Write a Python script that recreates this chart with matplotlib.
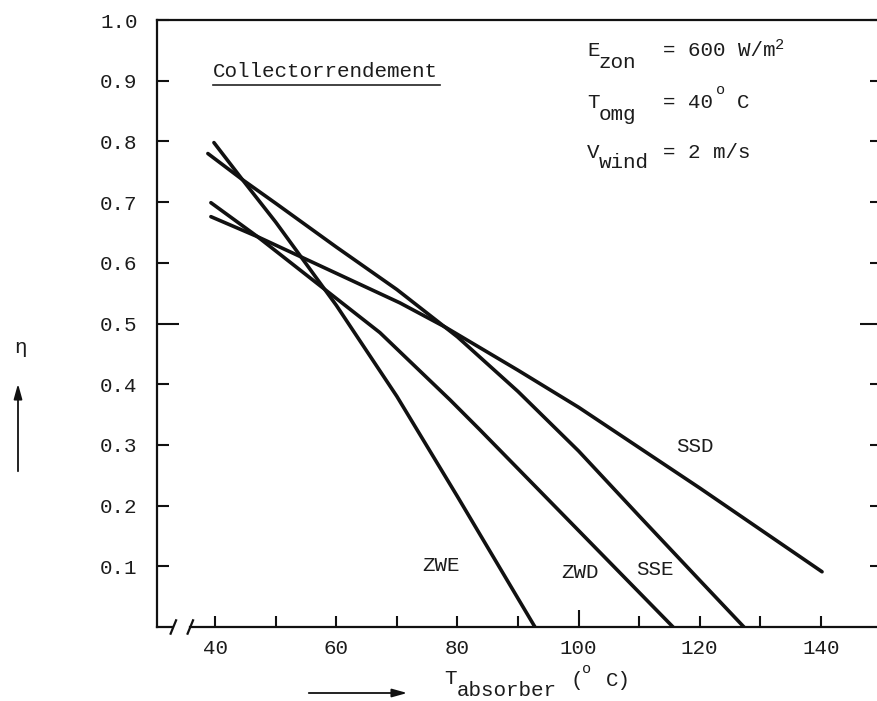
import matplotlib.pyplot as plt

# rendement (eta) tegen absorbertemperatuur
t_zwe = [39.8, 44.5, 50.0, 60.0, 70.0, 80.0, 92.8]
eta_zwe = [0.798, 0.737, 0.667, 0.53, 0.38, 0.215, 0.0]

t_sse = [38.8, 44.5, 50.0, 60.0, 70.0, 80.0, 90.0, 100.0, 110.0, 120.0, 127.3]
eta_sse = [0.78, 0.737, 0.698, 0.626, 0.556, 0.478, 0.388, 0.29, 0.183, 0.077, 0.0]

t_zwd = [39.3, 47.0, 67.2, 78.8, 83.7, 115.6]
eta_zwd = [0.699, 0.643, 0.485, 0.374, 0.325, 0.0]

t_ssd = [39.3, 47.0, 70.5, 78.0, 90.0, 100.0, 120.0, 140.2]
eta_ssd = [0.676, 0.643, 0.534, 0.494, 0.423, 0.362, 0.229, 0.091]

namen = ["ZWE", "ZWD", "SSE", "SSD"]
label_pos = [(77.3, 0.102), (100.2, 0.089), (112.6, 0.094), (119.2, 0.297)]

x_major = [40, 60, 80, 100, 120, 140]
x_minor = [50, 70, 90, 110, 130]
y_ticks = [0.1, 0.2, 0.3, 0.4, 0.5, 0.6, 0.7, 0.8, 0.9, 1.0]

MONO = "Liberation Mono"
KLEUR = "#1c1c1c"
FS = 15

W, H = 878, 701
fig = plt.figure(figsize=(W / 100, H / 100), dpi=100)

def fx(x):
    return x / W

def fy(y):
    return 1 - y / H

ax = fig.add_axes([fx(157), fy(627), (882 - 157) / W, (627 - 20) / H])
ax.set_xlim(30.4, 150.1)
ax.set_ylim(0, 1.0)

for t, e in [(t_zwe, eta_zwe), (t_zwd, eta_zwd), (t_sse, eta_sse), (t_ssd, eta_ssd)]:
    ax.plot(t, e, color="#111111", lw=2.6, solid_capstyle="round",
            solid_joinstyle="round")

for naam, (tx, ty) in zip(namen, label_pos):
    ax.text(tx, ty, naam, family=MONO, fontsize=FS, color=KLEUR,
            ha="center", va="center")

# assen
for s in ["left", "top", "right"]:
    ax.spines[s].set_linewidth(1.6)
    ax.spines[s].set_color("#111111")
ax.spines["bottom"].set_visible(False)

# onderste as met onderbreking
ax.plot([30.4, 32.9], [0, 0], color="#111111", lw=1.6, clip_on=False)
ax.plot([35.9, 150.1], [0, 0], color="#111111", lw=1.6, clip_on=False)
for xb in [33.1, 35.9]:
    ax.plot([xb - 0.45, xb + 0.45], [-0.011, 0.011], color="#111111",
            lw=1.6, clip_on=False)

ax.set_xticks(x_major)
ax.set_xticks(x_minor, minor=True)
ax.set_xticklabels([str(v) for v in x_major])
ax.set_yticks(y_ticks)
ax.set_yticklabels(["%.1f" % v for v in y_ticks])

ax.tick_params(axis="x", which="both", direction="in", length=8, width=1.5,
               color="#111111", pad=9, labelsize=FS, labelcolor=KLEUR)
ax.tick_params(axis="y", direction="in", length=8.5, width=1.5,
               color="#111111", pad=14, labelsize=FS, labelcolor=KLEUR,
               right=True)
for lab in ax.get_xticklabels() + ax.get_yticklabels():
    lab.set_family(MONO)

yt = ax.yaxis.get_major_ticks()
yt[4].tick1line.set_markersize(16)
yt[4].tick2line.set_markersize(16)
ax.xaxis.get_major_ticks()[3].tick1line.set_markersize(12)

# titel in de grafiek
ax.text(39.7, 0.915, "Collectorrendement", family=MONO, fontsize=FS,
        color=KLEUR, ha="left", va="center")
ax.plot([39.7, 77.1], [0.893, 0.893], color="#222222", lw=1.2)

# condities
def ft(x, y, s, size=FS, va="center"):
    fig.text(fx(x), fy(y), s, family=MONO, fontsize=size, color=KLEUR,
             ha="left", va=va)

ft(587, 50, "E")
ft(599, 62, "zon")
ft(663, 50, "= 600 W/m")
ft(775, 45, "2", size=11)

ft(587, 102, "T")
ft(599, 114, "omg")
ft(663, 102, "= 40")
ft(716, 90, "o", size=11)
ft(737, 102, "C")

ft(587, 152, "V")
ft(599, 163, "wind")
ft(663, 152, "= 2 m/s")

# aslabels met pijlen
ft(444, 679, "T")
ft(457, 690, "absorber")
ft(571, 681, "(")
ft(582, 669, "o", size=11)
ft(606, 681, "C)")

fig.text(fx(20), fy(347), "\u03b7", family=MONO, fontsize=FS, color=KLEUR,
         ha="center", va="center")

ax.annotate("", xy=(fx(410), fy(693)), xytext=(fx(306), fy(693)),
            xycoords="figure fraction", textcoords="figure fraction",
            arrowprops=dict(arrowstyle="-|>,head_length=0.9,head_width=0.25",
                            color="#111111", lw=1.3))
ax.annotate("", xy=(fx(18), fy(381)), xytext=(fx(18), fy(474)),
            xycoords="figure fraction", textcoords="figure fraction",
            arrowprops=dict(arrowstyle="-|>,head_length=0.9,head_width=0.25",
                            color="#111111", lw=1.3))

fig.savefig("out.png", dpi=100)
